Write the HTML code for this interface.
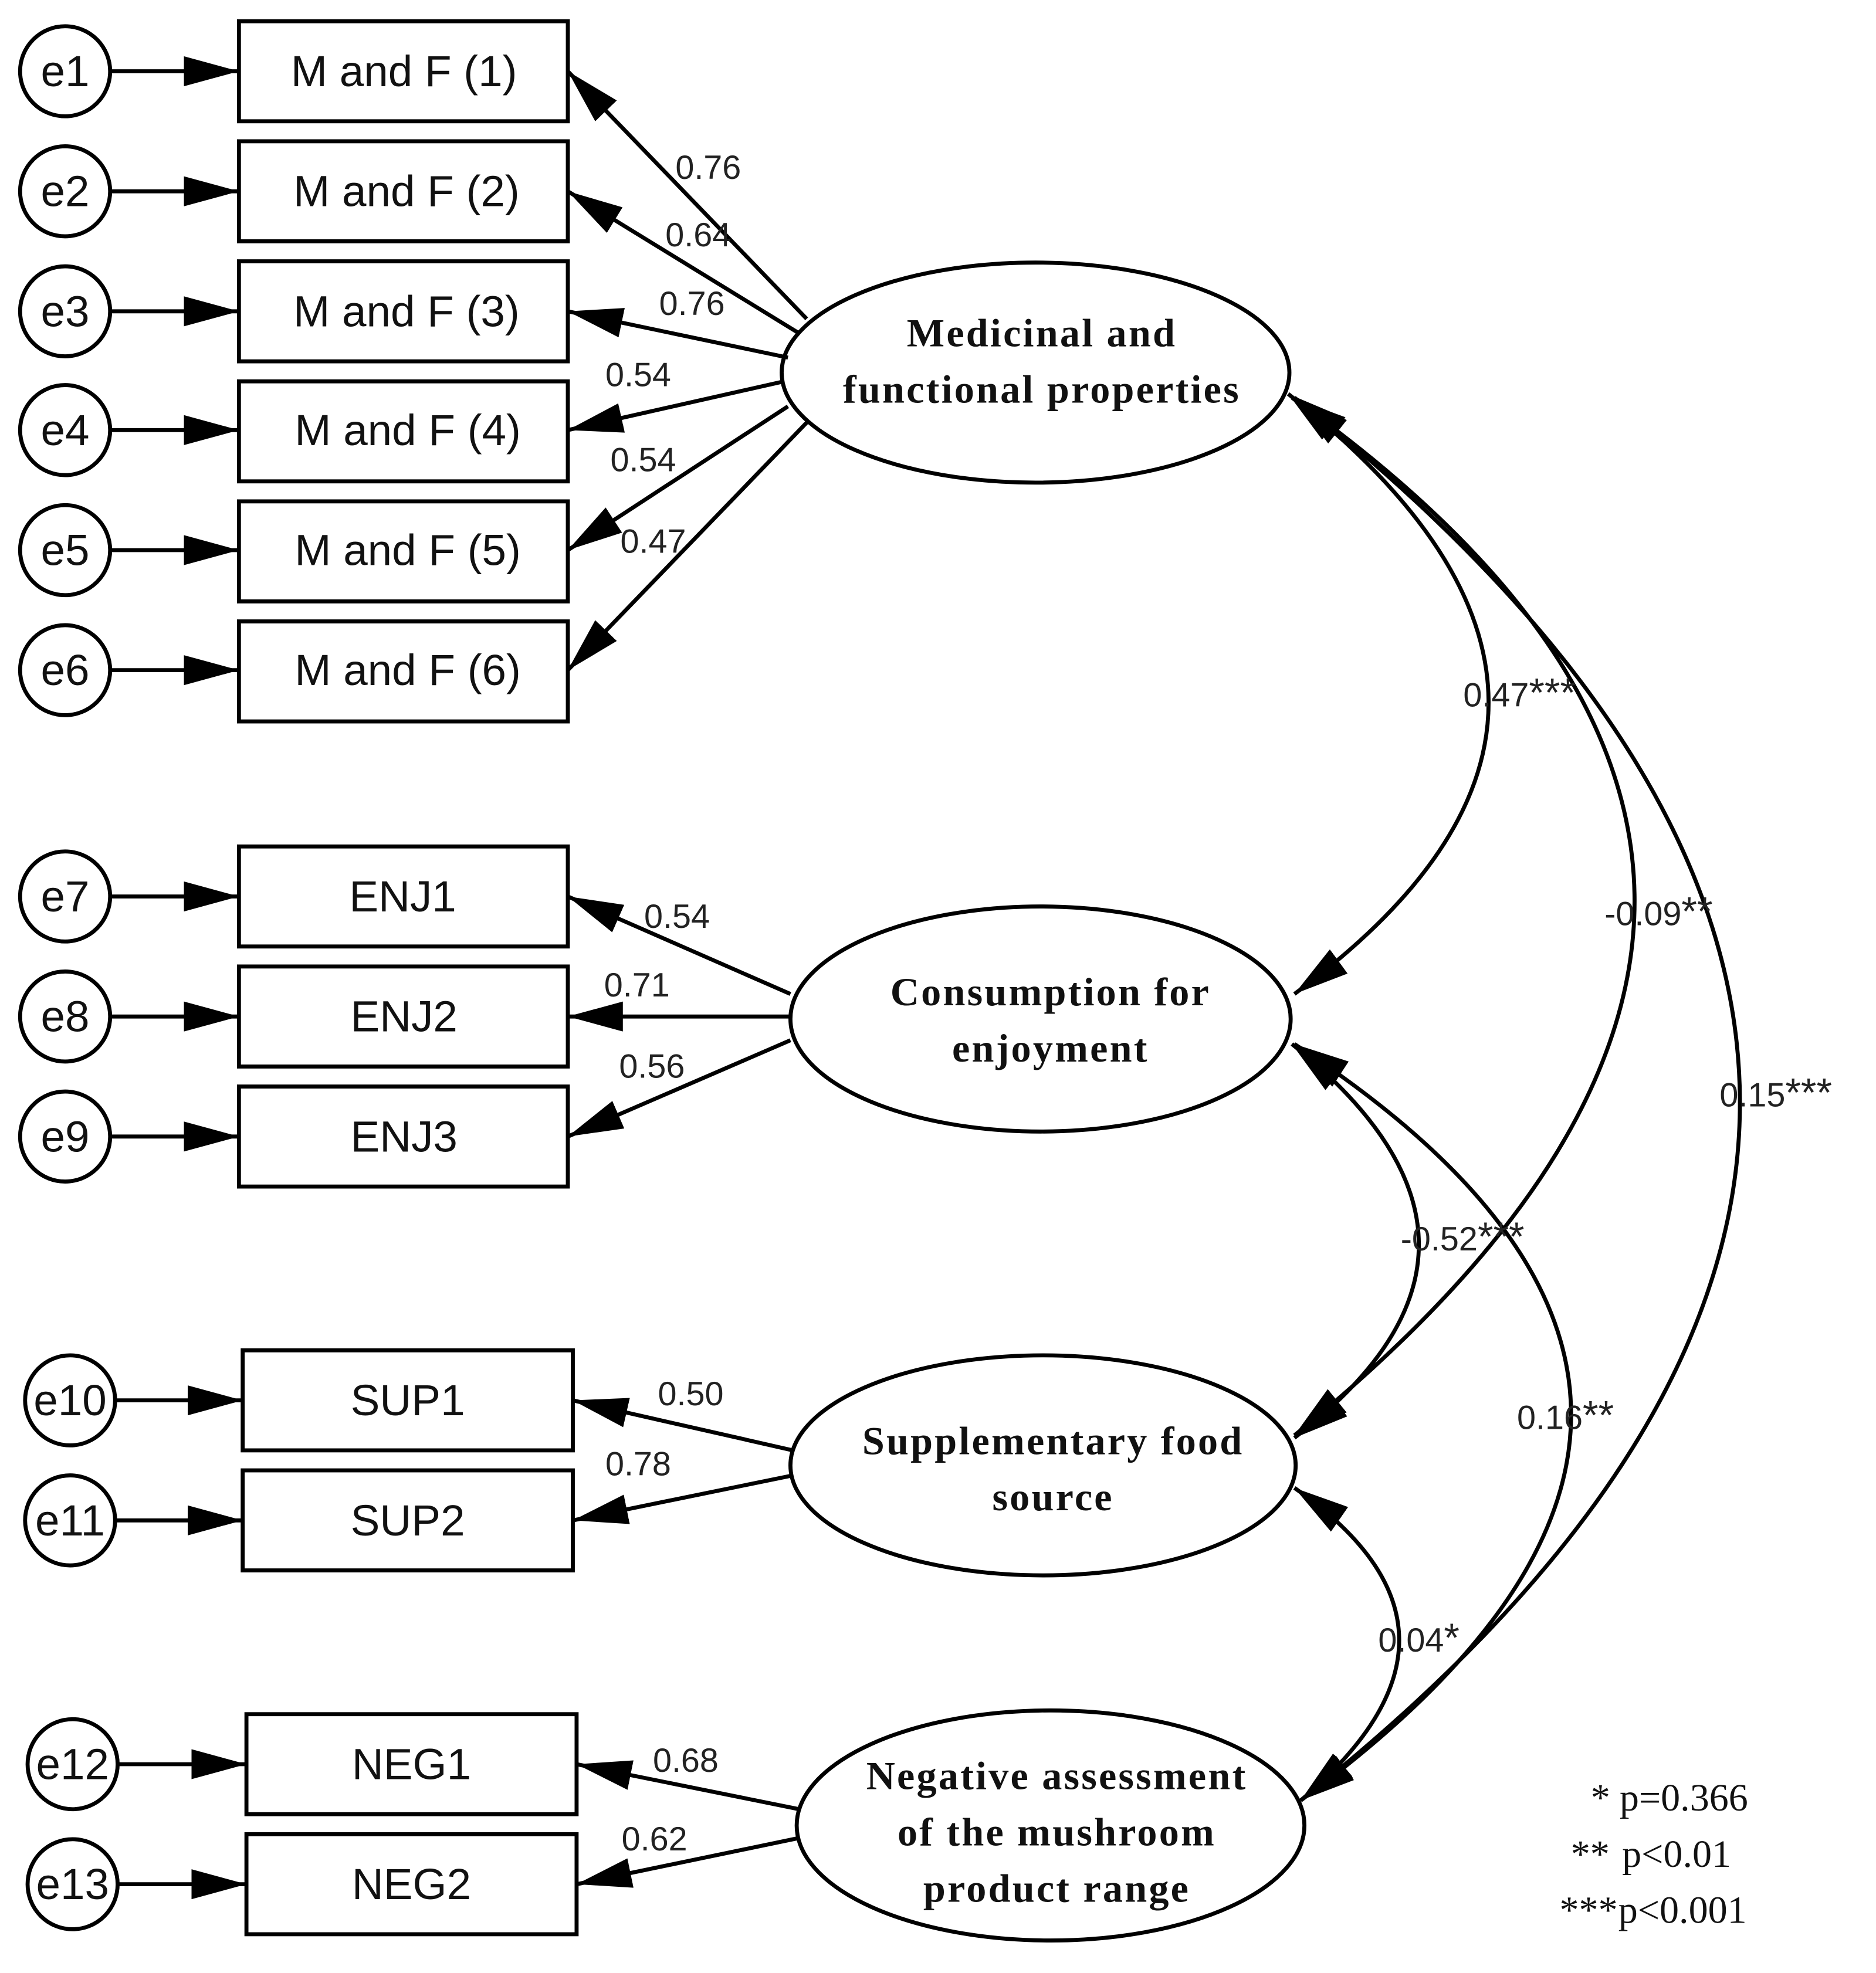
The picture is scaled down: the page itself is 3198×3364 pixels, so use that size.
<!DOCTYPE html>
<html><head><meta charset="utf-8"><style>
html,body{margin:0;padding:0;background:#fff}
svg{display:block}
.n{font-family:"Liberation Sans",sans-serif;font-size:27px;fill:#222}
.b{font-family:"Liberation Sans",sans-serif;font-size:35px;fill:#111}
.l{font-family:"Liberation Serif",serif;font-size:32px;font-weight:bold;fill:#111;letter-spacing:1.5px}
.g{font-family:"Liberation Serif",serif;font-size:31px;fill:#111}
</style></head><body>
<svg width="3198" height="3364" viewBox="0 0 1500 1578" xmlns="http://www.w3.org/2000/svg">
<defs>
<marker id="a" viewBox="0 0 44 24" refX="44" refY="12" markerWidth="44" markerHeight="24" markerUnits="userSpaceOnUse" orient="auto-start-reverse">
<path d="M0,0 L44,12 L0,24 Z" fill="#000"/></marker>
</defs>
<g stroke="#000" stroke-width="3.2" fill="none">
<g fill="#fff">
<circle cx="52" cy="57" r="36"/><circle cx="52" cy="153" r="36"/><circle cx="52" cy="249" r="36"/>
<circle cx="52" cy="344" r="36"/><circle cx="52" cy="440" r="36"/><circle cx="52" cy="536" r="36"/>
<circle cx="52" cy="717" r="36"/><circle cx="52" cy="813" r="36"/><circle cx="52" cy="909" r="36"/>
<circle cx="56" cy="1120" r="36"/><circle cx="56" cy="1216" r="36"/>
<circle cx="58" cy="1411" r="36"/><circle cx="58" cy="1507" r="36"/>
</g>
<g marker-end="url(#a)">
<line x1="88" y1="57" x2="191" y2="57"/><line x1="88" y1="153" x2="191" y2="153"/><line x1="88" y1="249" x2="191" y2="249"/>
<line x1="88" y1="344" x2="191" y2="344"/><line x1="88" y1="440" x2="191" y2="440"/><line x1="88" y1="536" x2="191" y2="536"/>
<line x1="88" y1="717" x2="191" y2="717"/><line x1="88" y1="813" x2="191" y2="813"/><line x1="88" y1="909" x2="191" y2="909"/>
<line x1="92" y1="1120" x2="194" y2="1120"/><line x1="92" y1="1216" x2="194" y2="1216"/>
<line x1="94" y1="1411" x2="197" y2="1411"/><line x1="94" y1="1507" x2="197" y2="1507"/>
</g>
<rect x="191" y="17" width="263" height="80"/><rect x="191" y="113" width="263" height="80"/>
<rect x="191" y="209" width="263" height="80"/><rect x="191" y="305" width="263" height="80"/>
<rect x="191" y="401" width="263" height="80"/><rect x="191" y="497" width="263" height="80"/>
<rect x="191" y="677" width="263" height="80"/><rect x="191" y="773" width="263" height="80"/>
<rect x="191" y="869" width="263" height="80"/>
<rect x="194" y="1080" width="264" height="80"/><rect x="194" y="1176" width="264" height="80"/>
<rect x="197" y="1371" width="264" height="80"/><rect x="197" y="1467" width="264" height="80"/>
<ellipse cx="828" cy="298" rx="203" ry="88"/>
<ellipse cx="832" cy="815" rx="200" ry="90"/>
<ellipse cx="834" cy="1172" rx="202" ry="88"/>
<ellipse cx="840" cy="1460" rx="203" ry="92"/>
<g marker-end="url(#a)">
<line x1="645" y1="255" x2="454" y2="57"/><line x1="638" y1="266" x2="454" y2="153"/>
<line x1="630" y1="286" x2="454" y2="249"/><line x1="627" y1="305" x2="454" y2="344"/>
<line x1="630" y1="325" x2="454" y2="440"/><line x1="645" y1="338" x2="454" y2="536"/>
<line x1="632" y1="795" x2="454" y2="717"/><line x1="632" y1="813" x2="454" y2="813"/>
<line x1="632" y1="832" x2="454" y2="909"/>
<line x1="634" y1="1160" x2="458" y2="1120"/><line x1="634" y1="1180" x2="458" y2="1216"/>
<line x1="639" y1="1447" x2="461" y2="1411"/><line x1="639" y1="1470" x2="461" y2="1507"/>
</g>
<g marker-start="url(#a)" marker-end="url(#a)">
<path d="M1030,315 Q1348,565 1035,795"/>
<path d="M1033,318 Q1580,707 1035,1148"/>
<path d="M1035,318 Q1745,881 1040,1440"/>
<path d="M1033,835 Q1235,997 1035,1150"/>
<path d="M1035,835 Q1475,1122 1040,1440"/>
<path d="M1035,1190 Q1200,1305 1040,1440"/>
</g>
</g>
<g class="b" text-anchor="middle">
<text x="323" y="69">M and F (1)</text><text x="325" y="165">M and F (2)</text><text x="325" y="261">M and F (3)</text>
<text x="326" y="356">M and F (4)</text><text x="326" y="452">M and F (5)</text><text x="326" y="548">M and F (6)</text>
<text x="322" y="729">ENJ1</text><text x="323" y="825">ENJ2</text><text x="323" y="921">ENJ3</text>
<text x="326" y="1132">SUP1</text><text x="326" y="1228">SUP2</text>
<text x="329" y="1423">NEG1</text><text x="329" y="1519">NEG2</text>
<text x="52" y="69">e1</text><text x="52" y="165">e2</text><text x="52" y="261">e3</text><text x="52" y="356">e4</text>
<text x="52" y="452">e5</text><text x="52" y="548">e6</text><text x="52" y="729">e7</text><text x="52" y="825">e8</text>
<text x="52" y="921">e9</text><text x="56" y="1132">e10</text><text x="56" y="1228">e11</text>
<text x="58" y="1423">e12</text><text x="58" y="1519">e13</text>
</g>
<g class="l" text-anchor="middle">
<text x="833" y="277">Medicinal and</text><text x="833" y="322">functional properties</text>
<text x="840" y="804">Consumption for</text><text x="840" y="849">enjoyment</text>
<text x="842" y="1163">Supplementary food</text><text x="842" y="1208">source</text>
<text x="845" y="1431">Negative assessment</text><text x="845" y="1476">of the mushroom</text><text x="845" y="1521">product range</text>
</g>
<g class="n">
<text x="540" y="143">0.76</text><text x="532" y="197">0.64</text><text x="527" y="252">0.76</text>
<text x="484" y="309">0.54</text><text x="488" y="377">0.54</text><text x="496" y="442">0.47</text>
<text x="515" y="742">0.54</text><text x="483" y="797">0.71</text><text x="495" y="862">0.56</text>
<text x="526" y="1124">0.50</text><text x="484" y="1180">0.78</text>
<text x="522" y="1417">0.68</text><text x="497" y="1480">0.62</text>
<text x="1170" y="565">0.47<tspan font-size="32">***</tspan></text>
<text x="1283" y="740">-0.09<tspan font-size="32">**</tspan></text>
<text x="1375" y="885">0.15<tspan font-size="32">***</tspan></text>
<text x="1120" y="1000">-0.52<tspan font-size="32">***</tspan></text>
<text x="1213" y="1143">0.16<tspan font-size="32">**</tspan></text>
<text x="1102" y="1321">0.04<tspan font-size="32">*</tspan></text>
</g>
<g class="g">
<text x="1272" y="1448">*</text><text x="1295" y="1448">p=0.366</text>
<text x="1256" y="1493">**</text><text x="1297" y="1493">p&lt;0.01</text>
<text x="1247" y="1538">***</text><text x="1294" y="1538">p&lt;0.001</text>
</g>
</svg>
</body></html>
